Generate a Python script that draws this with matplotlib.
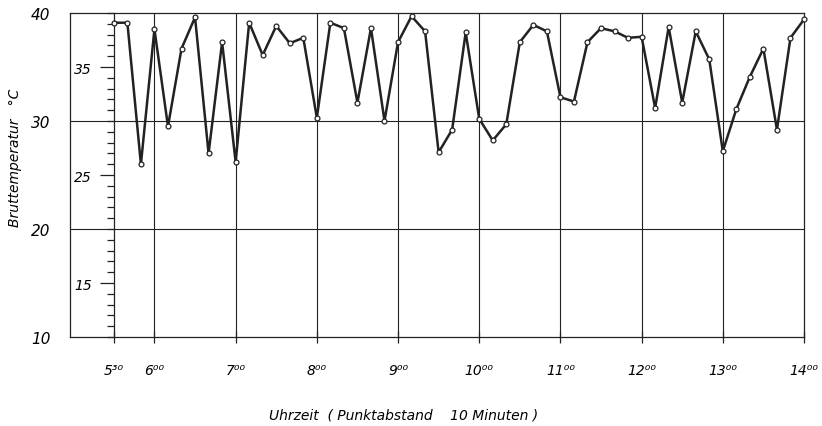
import numpy as np
import matplotlib.pyplot as plt

# Bruttemperatur, ein Wert alle 10 Minuten von 5:30 bis 14:00
temps = [39.1, 39.1, 26.0, 38.5, 29.5, 36.7, 39.6, 27.0, 37.3, 26.2,
         39.1, 36.1, 38.8, 37.2, 37.7, 30.3, 39.1, 38.6, 31.7, 38.6,
         30.0, 37.3, 39.7, 38.3, 27.1, 29.2, 38.2, 30.2, 28.2, 29.7,
         37.3, 38.9, 38.3, 32.2, 31.8, 37.3, 38.6, 38.3, 37.7, 37.8,
         31.2, 38.7, 31.7, 38.3, 35.7, 27.2, 31.1, 34.1, 36.7, 29.2,
         37.7, 39.4]
start_hour = 5.5
step_hours = 10 / 60
hours = start_hour + np.arange(len(temps)) * step_hours

xtick_pos = [5.5, 6, 7, 8, 9, 10, 11, 12, 13, 14]
xtick_lab = ['5³⁰', '6⁰⁰', '7⁰⁰', '8⁰⁰', '9⁰⁰', '10⁰⁰', '11⁰⁰', '12⁰⁰', '13⁰⁰', '14⁰⁰']
inner_ticks = [15, 25, 35]
outer_ticks = [10, 20, 30, 40]

ink = '#222222'
plt.rcParams['font.family'] = 'DejaVu Sans'
plt.rcParams['font.style'] = 'italic'

fig = plt.figure(figsize=(8.22, 4.27), dpi=100)
ax = fig.add_axes([70 / 822, 1 - 338 / 427, 734 / 822, 324 / 427])

ax.set_xlim(start_hour - 0.54, 14)
ax.set_ylim(10, 40)

for h in xtick_pos[1:-1]:
    ax.axvline(h, color=ink, lw=0.8, zorder=1)
for t in [20, 30]:
    ax.axhline(t, color=ink, lw=0.8, zorder=1)

ax.plot(hours, temps, '-o', color=ink, lw=1.8, markersize=3.5,
        markerfacecolor='white', markeredgecolor=ink, markeredgewidth=0.9,
        zorder=3, clip_on=False)

for s in ax.spines.values():
    s.set_color(ink)
    s.set_linewidth(0.9)
ax.spines['left'].set_position(('data', start_hour))

ax.set_yticks(inner_ticks)
ax.set_yticklabels([str(v) for v in inner_ticks], fontsize=10, style='italic')
ax.set_yticks(range(10, 41), minor=True)
ax.tick_params(axis='y', which='major', length=10, width=0.9, color=ink, pad=6)
ax.tick_params(axis='y', which='minor', length=5, width=0.9, color=ink)

ax.set_xticks(xtick_pos)
ax.set_xticklabels(xtick_lab, fontsize=10, style='italic')
ax.tick_params(axis='x', direction='inout', length=9, width=0.9, color=ink, pad=14)

sec = ax.secondary_yaxis('left')
sec.set_yticks(outer_ticks)
sec.set_yticklabels([str(v) for v in outer_ticks], fontsize=11, style='italic')
sec.tick_params(length=0, pad=14)
sec.spines['left'].set_color(ink)
sec.spines['left'].set_linewidth(0.9)

fig.text(15 / 822, 1 - 158 / 427, 'Bruttemperatur   °C', rotation=90,
         ha='center', va='center', fontsize=10, style='italic')
fig.text(404 / 822, 1 - 416 / 427, 'Uhrzeit  ( Punktabstand    10 Minuten )',
         ha='center', va='center', fontsize=10, style='italic')

fig.savefig('out.png', dpi=100)
